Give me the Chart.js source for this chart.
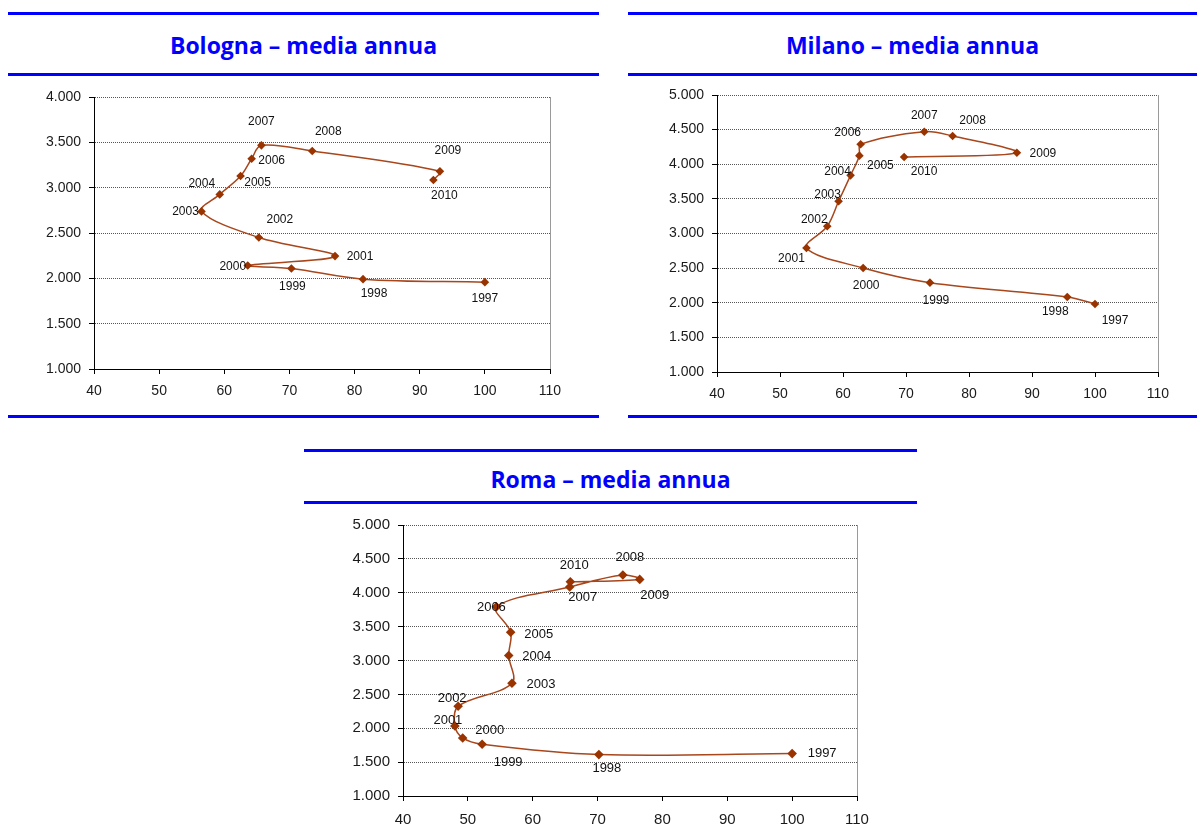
<!DOCTYPE html>
<html>
<head>
<meta charset="utf-8">
<script src="https://cdn.jsdelivr.net/npm/chart.js@4.4.1/dist/chart.umd.min.js"></script>
<style>
    body { margin: 0; width: 1200px; height: 839px; background: #fff; position: relative; overflow: hidden; }
    .rule { position: absolute; height: 3px; background: #0000ff; }
    .title { position: absolute; height: 32px; line-height: 32px; text-align: center; color: #0000ff;
             font-family: "Open Sans", sans-serif; font-weight: bold; font-size: 23px; }
    canvas { position: absolute; }
</style>
</head>
<body>

<div class="rule" style="left:8px; top:12px; width:591px"></div>
<div class="title" style="left:8px; top:29px; width:591px">Bologna – media annua</div>
<div class="rule" style="left:8px; top:73px; width:591px"></div>
<div class="rule" style="left:8px; top:415px; width:591px"></div>

<div class="rule" style="left:628px; top:12px; width:569px"></div>
<div class="title" style="left:628px; top:29px; width:569px">Milano – media annua</div>
<div class="rule" style="left:628px; top:73px; width:569px"></div>
<div class="rule" style="left:628px; top:415px; width:569px"></div>

<div class="rule" style="left:304px; top:449px; width:613px"></div>
<div class="title" style="left:304px; top:463px; width:613px">Roma – media annua</div>
<div class="rule" style="left:304px; top:501px; width:613px"></div>

<canvas id="bologna" width="571" height="337" style="left:19px; top:77px"></canvas>
<canvas id="milano" width="556" height="342" style="left:642px; top:75px"></canvas>
<canvas id="roma" width="569" height="336" style="left:328px; top:505px"></canvas>

<script>
const years = [1997, 1998, 1999, 2000, 2001, 2002, 2003, 2004, 2005, 2006, 2007, 2008, 2009, 2010];
const xTicks = [40, 50, 60, 70, 80, 90, 100, 110];
const bolognaYTicks = [1000, 1500, 2000, 2500, 3000, 3500, 4000];
const cityYTicks = [1000, 1500, 2000, 2500, 3000, 3500, 4000, 4500, 5000];

const bolognaX = [100, 81.3, 70.3, 63.6, 77.0, 65.3, 56.5, 59.3, 62.5, 64.2, 65.7, 73.5, 93.1, 92.1];
const bolognaY = [1958, 1991, 2109, 2142, 2245, 2451, 2738, 2926, 3128, 3319, 3467, 3404, 3180, 3084];

const milanoX = [100, 95.6, 73.8, 63.2, 54.2, 57.5, 59.3, 61.2, 62.6, 62.8, 72.9, 77.4, 87.6, 69.7];
const milanoY = [1982, 2083, 2290, 2502, 2791, 3104, 3465, 3840, 4124, 4288, 4470, 4408, 4167, 4105];

const romaX = [100, 70.2, 52.2, 49.2, 48.0, 48.5, 56.8, 56.3, 56.6, 54.4, 65.7, 73.9, 76.5, 65.8];
const romaY = [1626, 1611, 1763, 1857, 2034, 2325, 2665, 3074, 3418, 3792, 4084, 4261, 4197, 4162];

// where each year label sits relative to its marker (px)
const bolognaLabelPos = [[0, 17], [11, 15], [1, 18], [-15, 1], [25, 1], [21, -18], [-16, 0],
                         [-18, -11], [17, 7], [20, 2], [0, -24], [16, -19], [8, -21], [11, 16]];
const milanoLabelPos = [[20, 17], [-12, 15], [6, 18], [3, 18], [-15, 11], [-13, -7], [-11, -7],
                        [-13, -4], [21, 10], [-13, -12], [0, -16], [20, -15], [26, 1], [20, 15]];
const romaLabelPos = [[30, 0], [8, 14], [26, 18], [27, -8], [-7, -6], [-6, -8], [29, 1],
                      [28, 1], [28, 2], [-5, 1], [13, 10], [7, -18], [15, 16], [4, -16]];

Chart.defaults.font.family = '"Liberation Sans", Arial, sans-serif';
Chart.defaults.color = '#1a1a1a';

const thousands = (v) => String(v).replace(/\B(?=(\d{3})+(?!\d))/g, ".");

// grey frame line on the right side of the plot area
const plotFrame = {
    id: "plotFrame",
    beforeDatasetsDraw(chart) {
        const { ctx, chartArea } = chart;
        const x = Math.round(chartArea.right) + 0.5;
        ctx.save();
        ctx.strokeStyle = "#9a9a9a";
        ctx.lineWidth = 1;
        ctx.beginPath();
        ctx.moveTo(x, chartArea.top);
        ctx.lineTo(x, chartArea.bottom);
        ctx.stroke();
        ctx.restore();
    },
};

// year next to every marker
const yearLabels = {
    id: "yearLabels",
    afterDatasetsDraw(chart, args, opts) {
        const { ctx } = chart;
        const points = chart.getDatasetMeta(0).data;
        ctx.save();
        ctx.font = `${opts.size}px "Liberation Sans", Arial, sans-serif`;
        ctx.fillStyle = "#111";
        ctx.textAlign = "center";
        ctx.textBaseline = "middle";
        points.forEach((pt, i) => {
            const [dx, dy] = opts.offsets[i];
            ctx.fillText(String(years[i]), pt.x + dx, pt.y + dy);
        });
        ctx.restore();
    },
};

function drawPanel(id, xs, ys, yTicks, offsets, look) {
    new Chart(document.getElementById(id), {
        type: "scatter",
        data: {
            datasets: [
                {
                    data: xs.map((x, i) => ({ x, y: ys[i] })),
                    showLine: true,
                    tension: 0.35,
                    borderColor: "#a8461c",
                    borderWidth: 1.5,
                    pointStyle: "rectRot",
                    pointRadius: look.radius,
                    pointBackgroundColor: "#993300",
                    pointBorderWidth: 0,
                },
            ],
        },
        options: {
            responsive: false,
            animation: false,
            devicePixelRatio: 1,
            layout: { padding: { top: 20, right: 40, bottom: 0, left: 0 } },
            plugins: {
                legend: { display: false },
                tooltip: { enabled: false },
                yearLabels: { offsets, size: look.label },
            },
            scales: {
                x: {
                    type: "linear",
                    min: xTicks[0],
                    max: xTicks[xTicks.length - 1],
                    afterBuildTicks: (s) => { s.ticks = xTicks.map((value) => ({ value })); },
                    afterFit: (s) => { s.height = 45; },
                    grid: { drawOnChartArea: false, color: "#000", tickLength: 5 },
                    border: { color: "#000", width: 1 },
                    ticks: { padding: look.xPad, autoSkip: false, maxRotation: 0, font: { size: look.tick } },
                },
                y: {
                    type: "linear",
                    min: yTicks[0],
                    max: yTicks[yTicks.length - 1],
                    afterBuildTicks: (s) => { s.ticks = yTicks.map((value) => ({ value })); },
                    afterFit: (s) => { s.width = 75; },
                    grid: { color: "#555", tickColor: "#000", tickLength: 5 },
                    border: { color: "#000", width: 1, dash: [1, 1] },
                    ticks: { padding: 8, font: { size: look.tick }, callback: thousands },
                },
            },
        },
        plugins: [plotFrame, yearLabels],
    });
}

drawPanel("bologna", bolognaX, bolognaY, bolognaYTicks, bolognaLabelPos, { radius: 4.3, label: 12, tick: 14, xPad: 9 });
drawPanel("milano", milanoX, milanoY, cityYTicks, milanoLabelPos, { radius: 4.3, label: 12, tick: 14, xPad: 9 });
drawPanel("roma", romaX, romaY, cityYTicks, romaLabelPos, { radius: 4.8, label: 13, tick: 15, xPad: 10 });
</script>
</body>
</html>
